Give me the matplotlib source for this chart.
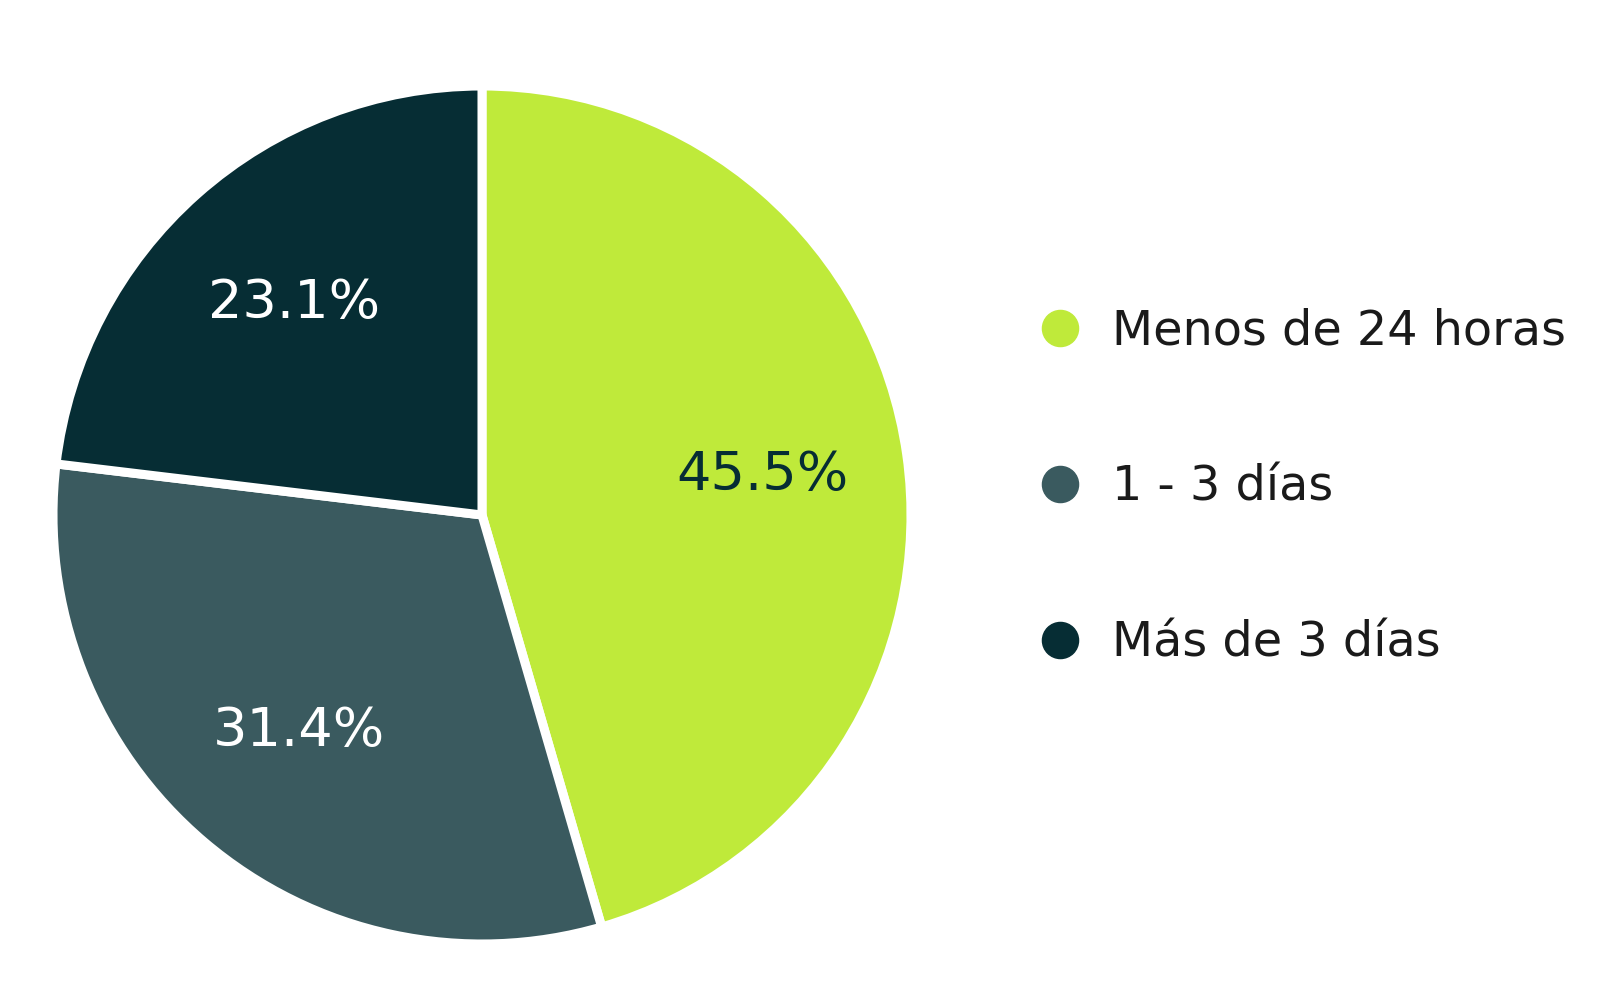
import matplotlib
matplotlib.use("Agg")
import matplotlib.pyplot as plt
from matplotlib.lines import Line2D

categories = ["Menos de 24 horas", "1 - 3 días", "Más de 3 días"]
values = [45.5, 31.4, 23.1]
colors = ["#BFEA3A", "#3A5A5F", "#062D34"]
label_colors = ["#062D34", "white", "white"]

plt.rcParams['font.family'] = ['DejaVu Sans']

W, H = 1598, 1000
fig = plt.figure(figsize=(W / 100, H / 100), dpi=100)
cx, cy, r = 482, 1000 - 515, 429
ax = fig.add_axes([(cx - r) / W, (cy - r) / H, 2 * r / W, 2 * r / H])

wedges, texts, autotexts = ax.pie(
    values, colors=colors, startangle=90, counterclock=False,
    autopct='%1.1f%%', pctdistance=0.66, radius=1.0,
    wedgeprops=dict(edgecolor='white', linewidth=6.5),
    textprops=dict(fontsize=39))
for t, c in zip(autotexts, label_colors):
    t.set_color(c)
ax.set_xlim(-1, 1)
ax.set_ylim(-1, 1)
ax.set_aspect('equal')
ax.axis('off')

handles = [Line2D([0], [0], marker='o', linestyle='none', markersize=26,
                  markerfacecolor=c, markeredgecolor=c) for c in colors]
leg = fig.legend(handles, categories, loc='center left',
                 bbox_to_anchor=(1036 / W, 1 - 487 / H), frameon=False,
                 fontsize=34.4, labelspacing=2.28, handletextpad=0.6,
                 handlelength=1.0, borderpad=0, borderaxespad=0)
for t in leg.get_texts():
    t.set_color('#1a1a1a')

fig.savefig("out.png", dpi=100, facecolor='white')
